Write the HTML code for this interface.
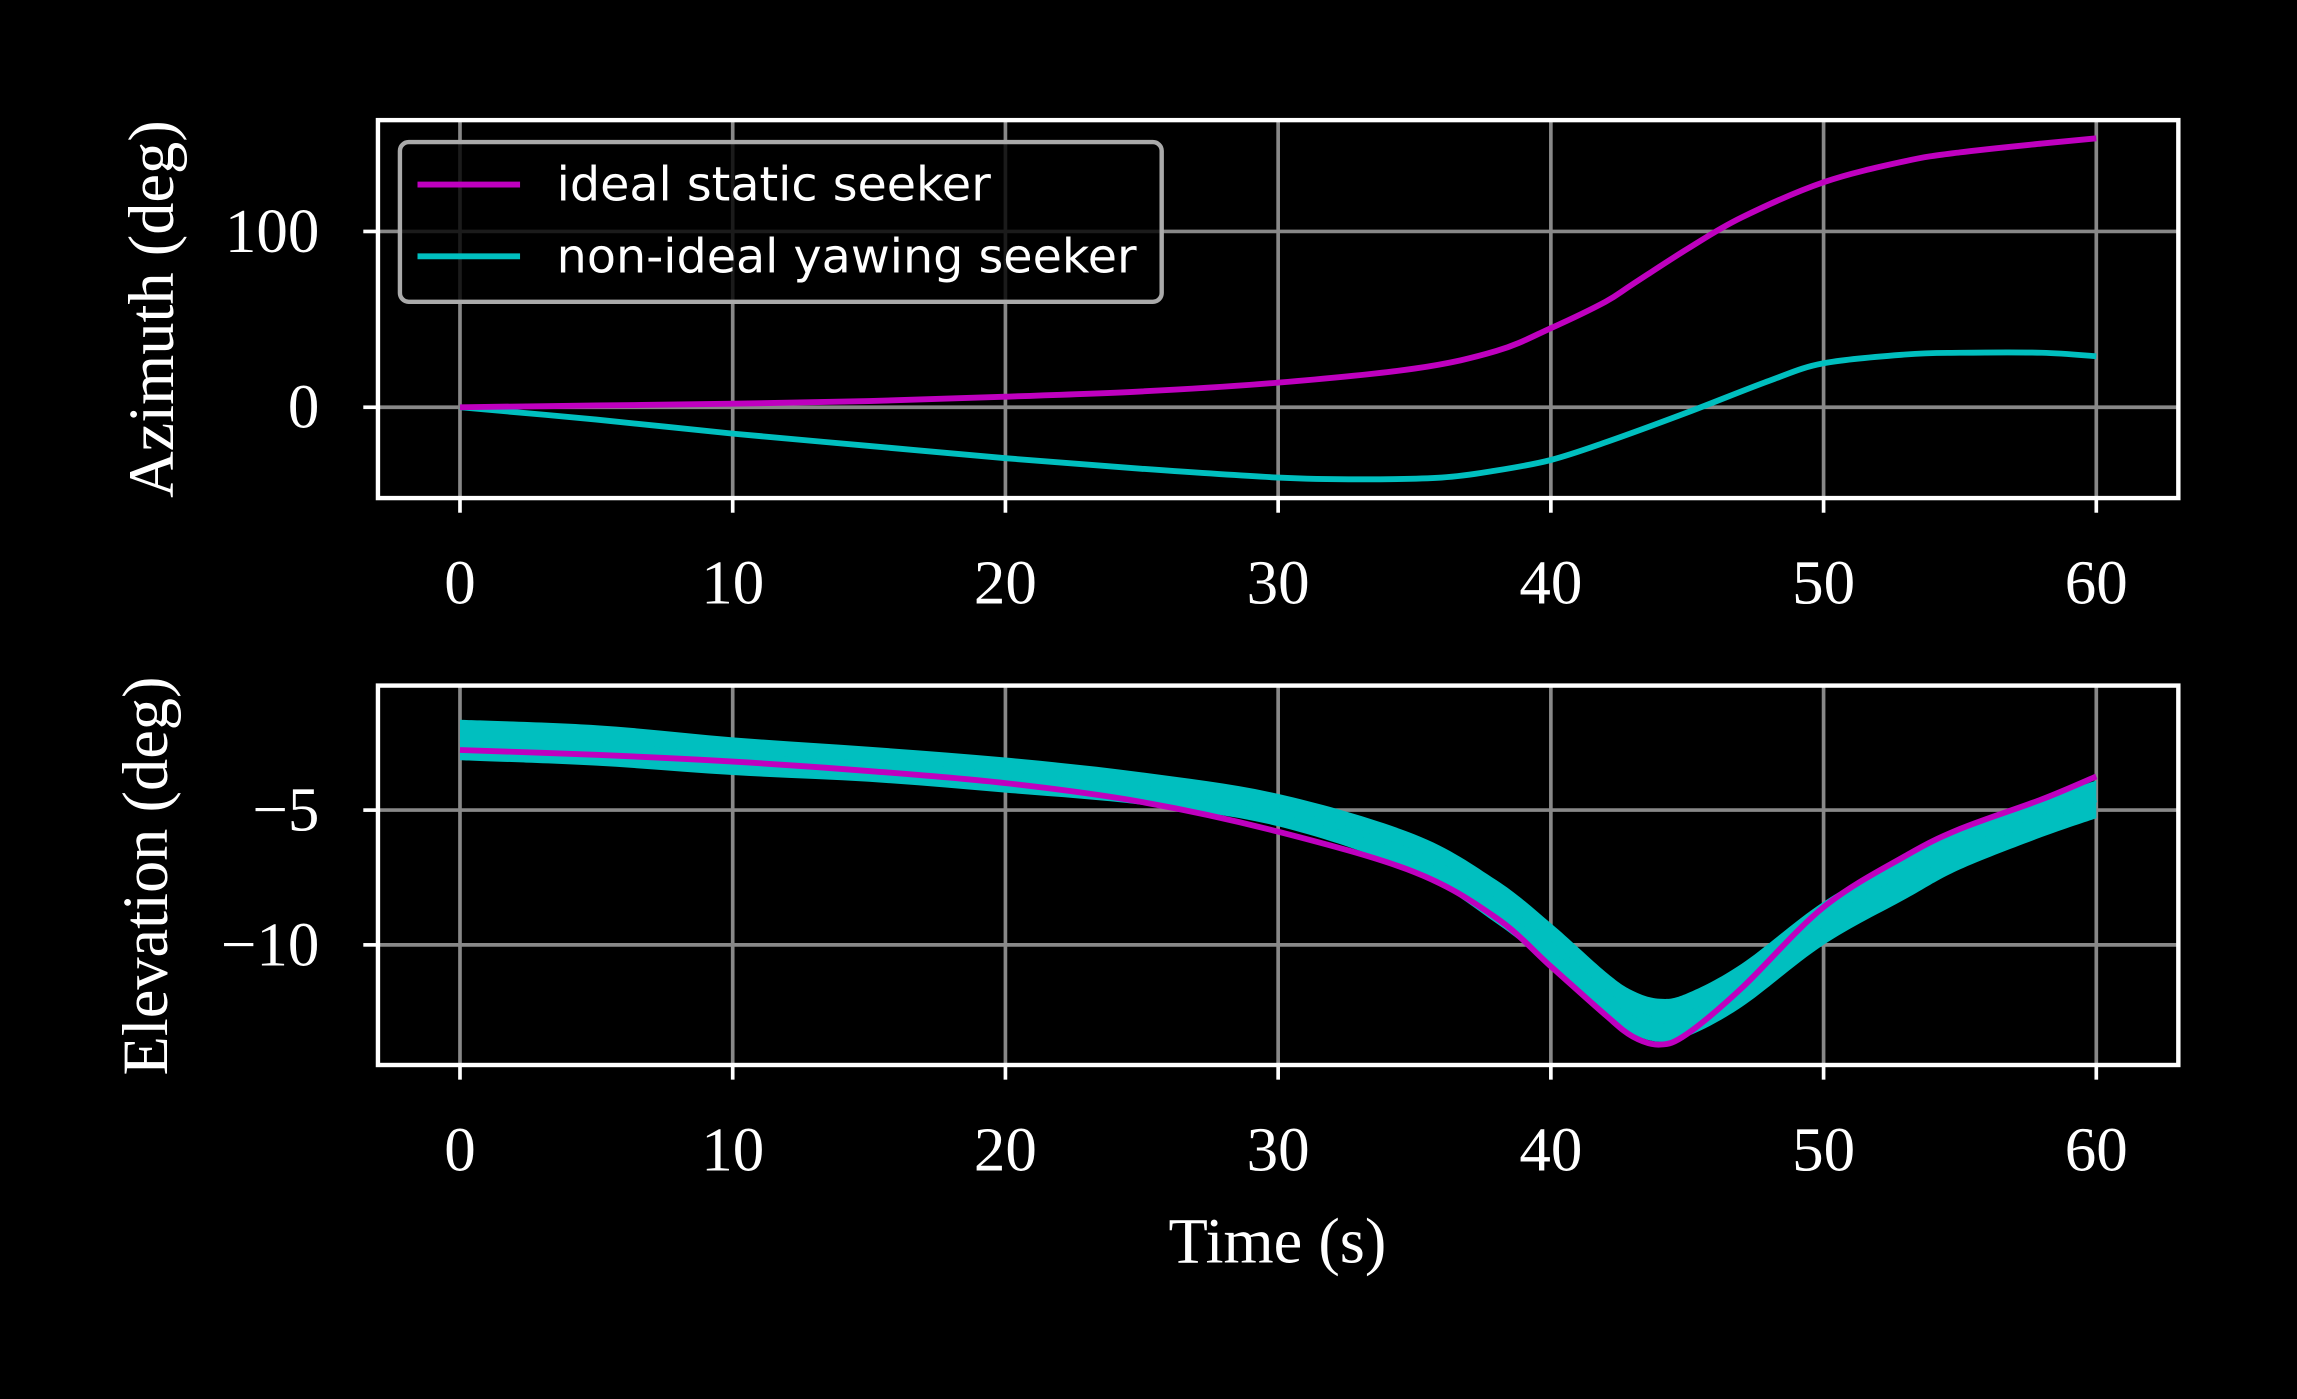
<!DOCTYPE html>
<html><head><meta charset="utf-8"><style>
html,body{margin:0;padding:0;background:#000;}
svg{display:block}
.tick{font-family:"Liberation Serif",serif;font-size:43px;fill:#fff}
.lab{font-family:"Liberation Serif",serif;font-size:44px;fill:#fff}
.leg{font-family:"DejaVu Sans",sans-serif;font-size:32.5px;fill:#fff}
</style></head><body>
<svg id="fig" width="2297" height="1399" viewBox="0 0 1568 955" xmlns="http://www.w3.org/2000/svg">
<rect width="1568" height="955" fill="#000"/>
<g id="topPanel"></g>
<g id="botPanel"></g>
<text class="lab" x="872" y="862" text-anchor="middle">Time (s)</text>
<text class="lab" transform="translate(118,211) rotate(-90)" text-anchor="middle">Azimuth (deg)</text>
<text class="lab" transform="translate(114,598) rotate(-90)" text-anchor="middle">Elevation (deg)</text>
<g>
<rect x="273" y="97" width="520" height="109" rx="6" fill="#000" fill-opacity="0.8" stroke="#aaa" stroke-width="3"/>
<line x1="285" y1="126" x2="355" y2="126" stroke="#bf00bf" stroke-width="4"/>
<text class="leg" x="380" y="137">ideal static seeker</text>
<line x1="285" y1="175" x2="355" y2="175" stroke="#00bfbf" stroke-width="4"/>
<text class="leg" x="380" y="186">non-ideal yawing seeker</text>
</g>
</svg>
<script>
const xTicks=[0,10,20,30,40,50,60];
const azTicks=[0,100];
const elTicks=[-10,-5];
const azTime=[0,5,10,15,20,25,30,35,38,40,42,43,45,47,50,53,55,58,60];
const azIdeal=[0,1,2,3.5,6,9,14,22,32,45,60,70,90,108,128,140,145,150,153];
const nTime=[0,5,10,15,20,25,30,33,36,38,40,42,45,48,50,53,55,58,60];
const azNonIdeal=[0,-7,-15,-22,-29,-35,-40,-41,-40,-36,-30,-20,-3,15,25,30,31,31,29];
const elTime=[0,5,10,15,20,25,30,35,38,40,42,43,44,45,47,50,53,55,58,60];
const elIdeal=[-2.77,-2.95,-3.2,-3.55,-4.0,-4.7,-5.8,-7.3,-9.0,-10.8,-12.6,-13.4,-13.7,-13.3,-11.6,-8.6,-6.7,-5.7,-4.6,-3.75];
const elNonIdeal=[-2.4,-2.6,-3.0,-3.3,-3.7,-4.2,-5.0,-6.6,-8.4,-10.0,-11.8,-12.5,-12.8,-12.6,-11.5,-9.2,-7.5,-6.5,-5.3,-4.6];
const elNoise=[0.75,0.75,0.7,0.65,0.65,0.6,0.6,0.7,0.8,0.8,0.8,0.8,0.8,0.8,0.8,0.8,0.8,0.7,0.7,0.7];

const NS="http://www.w3.org/2000/svg";
const X=t=>314+(1431-314)*t/60;
const yAz=v=>278-1.2*v;
const yEl=v=>553-18.4*(v+5);
function mk(tag,attrs,parent){const e=document.createElementNS(NS,tag);for(const k in attrs)e.setAttribute(k,attrs[k]);parent.appendChild(e);return e;}
function smooth(pts,move){
  let d=move?('M'+pts[0][0]+','+pts[0][1]):('L'+pts[0][0]+','+pts[0][1]);
  for(let i=0;i<pts.length-1;i++){
    const p0=pts[Math.max(i-1,0)],p1=pts[i],p2=pts[i+1],p3=pts[Math.min(i+2,pts.length-1)];
    const c1=[p1[0]+(p2[0]-p0[0])/6,p1[1]+(p2[1]-p0[1])/6];
    const c2=[p2[0]-(p3[0]-p1[0])/6,p2[1]-(p3[1]-p1[1])/6];
    d+='C'+c1+' '+c2+' '+p2;
  }
  return d;
}
function panel(g,t0,b0,yTicks,yf){
  for(const t of xTicks){
    const l=mk('line',{x1:X(t),x2:X(t),y1:t0,y2:b0,stroke:'#888','stroke-width':2.5},g);
    
    
    mk('line',{x1:X(t),x2:X(t),y1:b0,y2:b0+10,stroke:'#fff','stroke-width':2.5},g);
    const tx=mk('text',{x:X(t),y:b0+72,'text-anchor':'middle',class:'tick'},g);tx.textContent=t;
    
    
  }
  for(const v of yTicks){
    const y=yf(v);
    const l=mk('line',{x1:258,x2:1487,y1:y,y2:y,stroke:'#888','stroke-width':2.5},g);
    
    
    mk('line',{x1:248,x2:258,y1:y,y2:y,stroke:'#fff','stroke-width':2.5},g);
    const tx=mk('text',{x:218,y:y+14,'text-anchor':'end',class:'tick'},g);tx.textContent=(v<0?'\u2212'+(-v):v);
    
    
  }
}
function line(g,ts,vs,yf,col,w,name){
  const pts=ts.map((t,i)=>[X(t),yf(vs[i])]);
  const p=mk('path',{d:smooth(pts,true),fill:'none',stroke:col,'stroke-width':w,'stroke-linejoin':'round'},g);
  
  
}
const topG=document.getElementById('topPanel'),botG=document.getElementById('botPanel');
panel(topG,82,340,azTicks,yAz);
line(topG,nTime,azNonIdeal,yAz,'#00bfbf',4,'azimuth-nonideal-line');
line(topG,azTime,azIdeal,yAz,'#bf00bf',4,'azimuth-ideal-line');
mk('rect',{x:258,y:82,width:1229,height:258,fill:'none',stroke:'#fff','stroke-width':3},topG);
panel(botG,468,727,elTicks,yEl);
const up=elTime.map((t,i)=>[X(t),yEl(elNonIdeal[i]+elNoise[i])]);
const lo=elTime.map((t,i)=>[X(t),yEl(elNonIdeal[i]-elNoise[i])]).reverse();
const band=mk('path',{d:smooth(up,true)+smooth(lo,false)+'Z',fill:'#00bfbf'},botG);


line(botG,elTime,elNonIdeal,yEl,'#00bfbf',4,'elevation-nonideal-line');
line(botG,elTime,elIdeal,yEl,'#bf00bf',4,'elevation-ideal-line');
mk('rect',{x:258,y:468,width:1229,height:259,fill:'none',stroke:'#fff','stroke-width':3},botG);
</script>
</body></html>
